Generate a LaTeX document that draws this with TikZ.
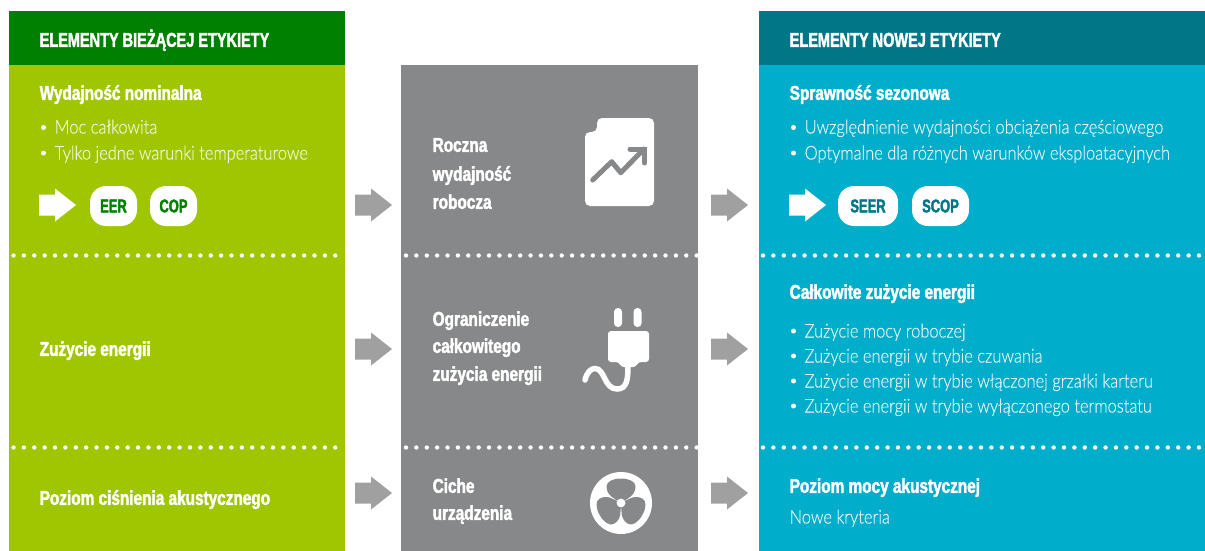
\documentclass[tikz,border=0pt]{standalone}
\usepackage{fontspec}
\setmainfont{Liberation Sans}
\newfontfamily\headf[FakeStretch=0.725,FakeBold=2]{Liberation Sans Bold}
\newfontfamily\subf[FakeStretch=0.768,FakeBold=2]{Liberation Sans Bold}
\newfontfamily\pillf[FakeStretch=0.70,FakeBold=2]{Liberation Sans Bold}
\newfontfamily\lightf[FakeStretch=0.865,FakeBold=0.25]{Lato Light}
\definecolor{hgreen}{HTML}{008000}
\definecolor{bgreen}{HTML}{9FC600}
\definecolor{midgray}{HTML}{878889}
\definecolor{arrgray}{HTML}{A0A0A1}
\definecolor{hteal}{HTML}{007687}
\definecolor{bcyan}{HTML}{00AECB}
\definecolor{lgreen}{HTML}{F2F7D6}
\definecolor{lcyan}{HTML}{E2F6FA}
\tikzset{
 hd/.style={anchor=base west,inner sep=0pt,text=white,font=\headf\fontsize{20}{20}\selectfont},
 sub/.style={anchor=base west,inner sep=0pt,text=white,font=\subf\fontsize{20}{20}\selectfont},
 item/.style={anchor=base west,inner sep=0pt,font=\lightf\fontsize{19}{19}\selectfont},
 pill/.style={fill=white,rounded corners=16pt,minimum height=40pt,inner sep=0pt,font=\pillf\fontsize{18.5}{18.5}\selectfont},
 bul/.style={circle,fill=white,inner sep=0pt,minimum size=5pt},
 dots/.style={white,line width=4.4pt,line cap=round,dash pattern=on 0pt off 10.38pt},
 bigarrow/.pic={\fill[pic actions] (0,-10.5)--(16,-10.5)--(16,-16.5)--(37,0)--(16,16.5)--(16,10.5)--(0,10.5)--cycle;},
 fanblade/.pic={\fill[midgray] (0,0) .. controls (-5.5,-4) and (-14.5,-7) .. (-14.5,-16.5) .. controls (-14.5,-21.5) and (-8,-24.5) .. (0,-24.5) .. controls (8,-24.5) and (14.5,-21.5) .. (14.5,-16.5) .. controls (14.5,-7) and (5.5,-4) .. (0,0) -- cycle;},
}
\begin{document}
\begin{tikzpicture}[x=1pt,y=-1pt]
\useasboundingbox (0,0) rectangle (1205,551);
% panels
\fill[hgreen] (9,11) rectangle (345,65);
\fill[bgreen] (9,65) rectangle (345,551);
\fill[midgray] (401,65) rectangle (698,551);
\fill[hteal] (759,11) rectangle (1205,65);
\fill[bcyan] (759,65) rectangle (1205,551);
% dots
\begin{scope}
\clip (9,240) rectangle (345,460);
\draw[dots] (13.5,255.5) -- (345,255.5);
\draw[dots] (13.5,447.5) -- (345,447.5);
\end{scope}
\begin{scope}
\clip (401,240) rectangle (698,460);
\draw[dots] (406,255.5) -- (698,255.5);
\draw[dots] (406,447.5) -- (698,447.5);
\end{scope}
\draw[dots] (763,255.5) -- (1200,255.5);
\draw[dots] (763,447.5) -- (1200,447.5);
% gray arrows
\foreach \x in {355,711}{
 \foreach \y in {205,349,493}{
  \pic[fill=arrgray] at (\x,\y) {bigarrow};
 }
}
\pic[fill=white] at (39,205) {bigarrow};
\pic[fill=white] at (789,205) {bigarrow};
% left text
\node[hd] (t1) at (39.5,46.8) {ELEMENTY BIEŻĄCEJ ETYKIETY};
\node[sub] (l1) at (39.5,99.8) {Wydajność nominalna};
\node[bul] (lb1) at (43.5,127.5) {};
\node[item,text=lgreen] (l2) at (54.5,133.5) {Moc całkowita};
\node[bul] (lb2) at (43.5,153) {};
\node[item,text=lgreen] (l3) at (54.5,159.5) {Tylko jedne warunki temperaturowe};
\node[pill,minimum width=47pt,text=hgreen] (eer) at (113.5,206) {EER};
\node[pill,minimum width=47pt,text=hgreen] (cop) at (173.5,206) {COP};
\node[sub] (l4) at (39.5,355.8) {Zużycie energii};
\node[sub] (l5) at (39.5,504.8) {Poziom ciśnienia akustycznego};
% middle text
\node[sub] (m1) at (432.5,151.8) {Roczna};
\node[sub] (m2) at (432.5,180.8) {wydajność};
\node[sub] (m3) at (432.5,208.8) {robocza};
\node[sub] (m4) at (432.5,325.8) {Ograniczenie};
\node[sub] (m5) at (432.5,352.8) {całkowitego};
\node[sub] (m6) at (432.5,380.8) {zużycia energii};
\node[sub] (m7) at (432.5,492.8) {Ciche};
\node[sub] (m8) at (432.5,519.8) {urządzenia};
% right text
\node[hd] (t2) at (789.5,46.8) {ELEMENTY NOWEJ ETYKIETY};
\node[sub] (r1) at (789.5,99.8) {Sprawność sezonowa};
\node[bul] (rb1) at (793.5,127.5) {};
\node[item,text=lcyan] (r2) at (804.5,133.5) {Uwzględnienie wydajności obciążenia częściowego};
\node[bul] (rb2) at (793.5,153) {};
\node[item,text=lcyan] (r3) at (804.5,159.5) {Optymalne dla różnych warunków eksploatacyjnych};
\node[pill,minimum width=60pt,text=hteal] (seer) at (868,206) {SEER};
\node[pill,minimum width=57pt,text=hteal] (scop) at (940.5,206) {SCOP};
\node[sub] (r4) at (789.5,298.8) {Całkowite zużycie energii};
\foreach \n/\y/\t in {a/331/Zużycie mocy roboczej,b/356/Zużycie energii w trybie czuwania,c/381/Zużycie energii w trybie włączonej grzałki karteru,d/406/Zużycie energii w trybie wyłączonego termostatu}{
 \node[bul] (rb\n) at (793.5,\y) {};
 \node[item,text=lcyan] (r\n) at (804.5,\y+6.5) {\t};
}
\node[sub] (r5) at (789.5,492.8) {Poziom mocy akustycznej};
\node[item,text=lcyan] (r6) at (789.5,523.5) {Nowe kryteria};
% doc icon
\fill[white,rounded corners=5pt] (585,206) -- (585,132) -- (597,132) -- (597,118) -- (654,118) -- (654,206) -- cycle;
\draw[midgray,line width=5pt,line cap=round,line join=round] (592.7,180) -- (611.7,161.7) -- (620.7,172.7) -- (644,149);
\draw[midgray,line width=5pt,line cap=round,line join=miter] (630,149) -- (644.5,149) -- (644.5,163);
% plug icon
\fill[white,rounded corners=3.8pt] (614,327) rectangle (622,308);
\fill[white,rounded corners=3.8pt] (633.5,327) rectangle (641.5,308);
\fill[white,rounded corners=3pt] (608,331) -- (649,331) -- (649,362) -- (638,362) -- (636,367) -- (621,367) -- (619,362) -- (608,362) -- cycle;
\draw[white,line width=5.5pt,line cap=round] (585,380) .. controls (587,372) and (591,368.5) .. (595,368.5) .. controls (605,368.5) and (604,389) .. (617,389) .. controls (627,389) and (628,379) .. (628,366);
% fan icon
\fill[white] (621,503) circle (31);
\pic at (621,503) {fanblade};
\pic[rotate=120] at (621,503) {fanblade};
\pic[rotate=240] at (621,503) {fanblade};
\fill[white] (621,503) circle (4.4);
\end{tikzpicture}
\end{document}
